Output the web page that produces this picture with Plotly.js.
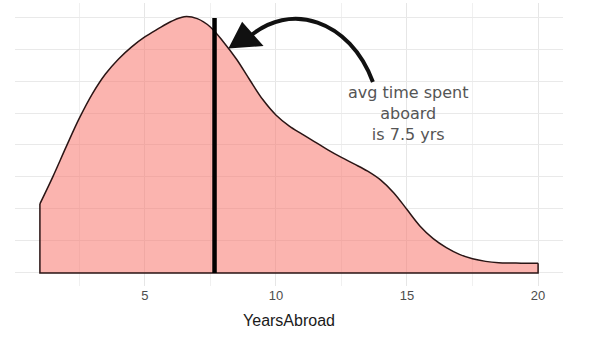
<!DOCTYPE html>
<html>
<head>
<meta charset="utf-8">
<script src="https://cdn.plot.ly/plotly-3.0.1.min.js"></script>
<style>html,body{margin:0;padding:0;background:#fff;}#chart{width:600px;height:338px;}</style>
</head>
<body>
<div id="chart"></div>
<script>
// Density estimate of years abroad (every half year)
const yearsAbroad = [1.0, 1.5, 2.0, 2.5, 3.0, 3.5, 4.0, 4.5, 5.0, 5.5, 6.0, 6.5, 7.0, 7.5, 8.0, 8.5, 9.0, 9.5, 10.0, 10.5, 11.0, 11.5, 12.0, 12.5, 13.0, 13.5, 14.0, 14.5, 15.0, 15.5, 16.0, 16.5, 17.0, 17.5, 18.0, 18.5, 19.0, 19.5, 20.0];
const density = [0.0216, 0.0302, 0.0394, 0.0483, 0.0560, 0.0622, 0.0669, 0.0707, 0.0738, 0.0763, 0.0786, 0.0801, 0.0795, 0.0769, 0.0722, 0.0668, 0.0604, 0.0542, 0.0494, 0.0460, 0.0434, 0.0409, 0.0384, 0.0361, 0.0340, 0.0318, 0.0290, 0.0250, 0.0198, 0.0146, 0.0107, 0.0079, 0.0058, 0.0044, 0.0036, 0.0032, 0.0031, 0.0030, 0.0030];
const meanYears = 7.66;
const meanLineTop = 0.0797;
const xTicks = [5, 10, 15, 20];
const annotationText = "avg time spent<br>aboard<br>is 7.5 yrs";

const n = yearsAbroad.length;
const fillTrace = {
  x: yearsAbroad, y: density, type: 'scatter', mode: 'lines',
  line: {shape: 'spline', smoothing: 1, color: '#2a1515', width: 1.5},
  fill: 'tozeroy', fillcolor: 'rgba(248,118,109,0.55)', hoverinfo: 'skip'
};
const edgeTrace = {
  x: [yearsAbroad[0], yearsAbroad[0], yearsAbroad[n-1], yearsAbroad[n-1]],
  y: [density[0], 0, 0, density[n-1]],
  type: 'scatter', mode: 'lines', line: {color: '#2a1515', width: 1.5}, hoverinfo: 'skip'
};
const meanTrace = {
  x: [meanYears, meanYears], y: [0, meanLineTop], type: 'scatter', mode: 'lines',
  line: {color: '#000', width: 4.5}, hoverinfo: 'skip'
};

const layout = {
  width: 600, height: 338,
  margin: {l: 15, r: 37, t: 3, b: 52},
  paper_bgcolor: '#fff', plot_bgcolor: '#fff',
  showlegend: false,
  font: {family: 'Liberation Sans, Arial, sans-serif'},
  xaxis: {
    range: [0.05, 20.95], tickvals: xTicks, ticktext: xTicks.map(String),
    showgrid: true, gridcolor: '#e6e6e6', gridwidth: 1, zeroline: false,
    showline: false, ticks: '',
    tickfont: {size: 13, color: '#4d4d4d'},
    minor: {dtick: 2.5, tick0: 0, showgrid: true, gridcolor: '#f0f0f0', gridwidth: 1},
    title: {text: 'YearsAbroad', font: {size: 16, color: '#1a1a1a'}, standoff: 12}
  },
  yaxis: {
    range: [-0.0041, 0.0844], dtick: 0.01, tick0: 0,
    showticklabels: false, showgrid: true, gridcolor: '#e9e9e9', zeroline: false, ticks: ''
  },
  shapes: [
    {type: 'path', xref: 'x', yref: 'y',
     path: 'M 13.70 0.0597 C 12.83 0.0791, 10.53 0.0853, 8.93 0.0734',
     line: {color: '#111', width: 4}},
    {type: 'path', xref: 'x', yref: 'y',
     path: 'M 8.25 0.0705 L 8.72 0.0780 L 9.45 0.0712 Z',
     fillcolor: '#111', line: {color: '#111', width: 2}}
  ],
  annotations: [
    {x: 15.04, y: 0.0500, xref: 'x', yref: 'y', text: annotationText, showarrow: false,
     font: {family: 'DejaVu Sans, sans-serif', size: 16, color: '#555'}, align: 'center'}
  ]
};

Plotly.newPlot('chart', [fillTrace, edgeTrace, meanTrace], layout, {displayModeBar: false, staticPlot: true});
</script>
</body>
</html>
